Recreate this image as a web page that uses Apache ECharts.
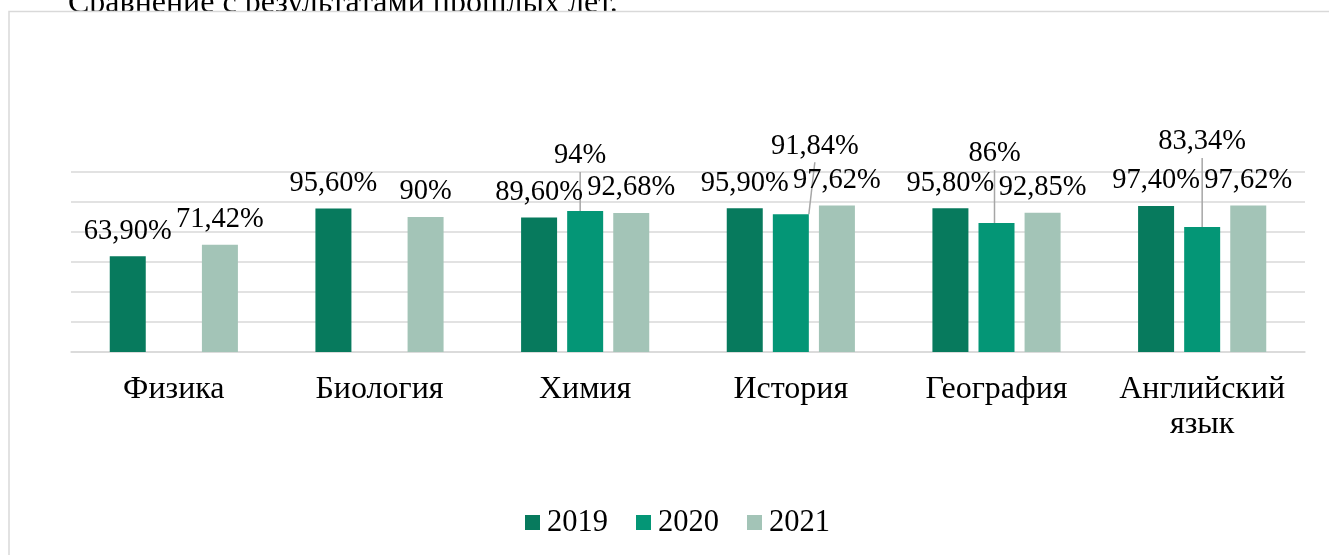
<!DOCTYPE html>
<html>
<head>
<meta charset="utf-8">
<script src="https://cdn.jsdelivr.net/npm/echarts@6/dist/echarts.min.js"></script>
<style>
html,body{margin:0;padding:0;background:#fff;}
#chart{width:1329px;height:555px;}
</style>
</head>
<body>
<div id="chart"></div>
<script>
const categories = ['Физика', 'Биология', 'Химия', 'История', 'География', 'Английский\nязык'];
const seriesNames = ['2019', '2020', '2021'];
const values2019 = [63.90, 95.60, 89.60, 95.90, 95.80, 97.40];
const values2020 = [null, null, 94, 91.84, 86, 83.34];
const values2021 = [71.42, 90, 92.68, 97.62, 92.85, 97.62];
const labels2019 = ['63,90%', '95,60%', '89,60%', '95,90%', '95,80%', '97,40%'];
const labels2020 = ['', '', '94%', '91,84%', '86%', '83,34%'];
const labels2021 = ['71,42%', '90%', '92,68%', '97,62%', '92,85%', '97,62%'];
const yMin = 0, yMax = 120, yInterval = 20;
const titleText = 'Сравнение с результатами прошлых лет.';

const colors = ['#077A5D', '#049676', '#A3C4B7'];
const FONT = '"Liberation Serif", "Times New Roman", serif';

// manual label shifts for 2020 labels (moved out like in source, with leader lines)
const shift2020 = {2: [-5, -30], 3: [24, -43], 4: [-2, -44], 5: [0, -60]};

function makeSeries(idx, vals, labs) {
  const s = {
    name: seriesNames[idx],
    type: 'bar',
    barWidth: 36,
    barGap: '28%',
    itemStyle: {color: colors[idx]},
    data: vals,
    label: {
      show: true,
      position: 'top',
      distance: 9,
      fontFamily: FONT,
      fontSize: 28.5,
      lineHeight: 32,
      color: '#000',
      formatter: p => labs[p.dataIndex]
    }
  };
  if (idx === 1) {
    s.labelLayout = function (p) {
      const sh = shift2020[p.dataIndex];
      return sh ? {dx: sh[0], dy: sh[1]} : {};
    };
    s.labelLine = {show: true, lineStyle: {color: '#A6A6A6', width: 1.5}};
  }
  return s;
}

const chart = echarts.init(document.getElementById('chart'), null, {renderer: 'canvas'});
chart.setOption({
  animation: false,
  backgroundColor: '#fff',
  graphic: [
    {
      type: 'text', left: 68, top: -12, z: -20,
      style: {text: titleText, font: '32px ' + FONT, fill: '#000'}
    },
    {
      type: 'rect', shape: {x: 9, y: 11.5, width: 1400, height: 600}, z: -10,
      style: {fill: '#fff', stroke: '#D9D9D9', lineWidth: 1.5}
    }
  ],
  grid: {left: 71, right: 24, top: 172, bottom: 203, containLabel: false},
  legend: {
    data: seriesNames,
    left: 525, top: 507,
    itemWidth: 15, itemHeight: 15, itemGap: 28,
    icon: 'rect', padding: 0,
    textStyle: {fontFamily: FONT, fontSize: 30.5, lineHeight: 30, color: '#000', padding: [0, 0, 0, 2]}
  },
  xAxis: {
    type: 'category',
    data: categories,
    axisTick: {show: false},
    axisLine: {lineStyle: {color: '#D9D9D9', width: 1.5}},
    axisLabel: {interval: 0, fontFamily: FONT, fontSize: 32, lineHeight: 35, color: '#000', margin: 20}
  },
  yAxis: {
    type: 'value', min: yMin, max: yMax, interval: yInterval,
    axisLabel: {show: false}, axisLine: {show: false}, axisTick: {show: false},
    splitLine: {lineStyle: {color: '#D9D9D9', width: 1.5}}
  },
  series: [
    makeSeries(0, values2019, labels2019),
    makeSeries(1, values2020, labels2020),
    makeSeries(2, values2021, labels2021)
  ]
});
</script>
</body>
</html>
